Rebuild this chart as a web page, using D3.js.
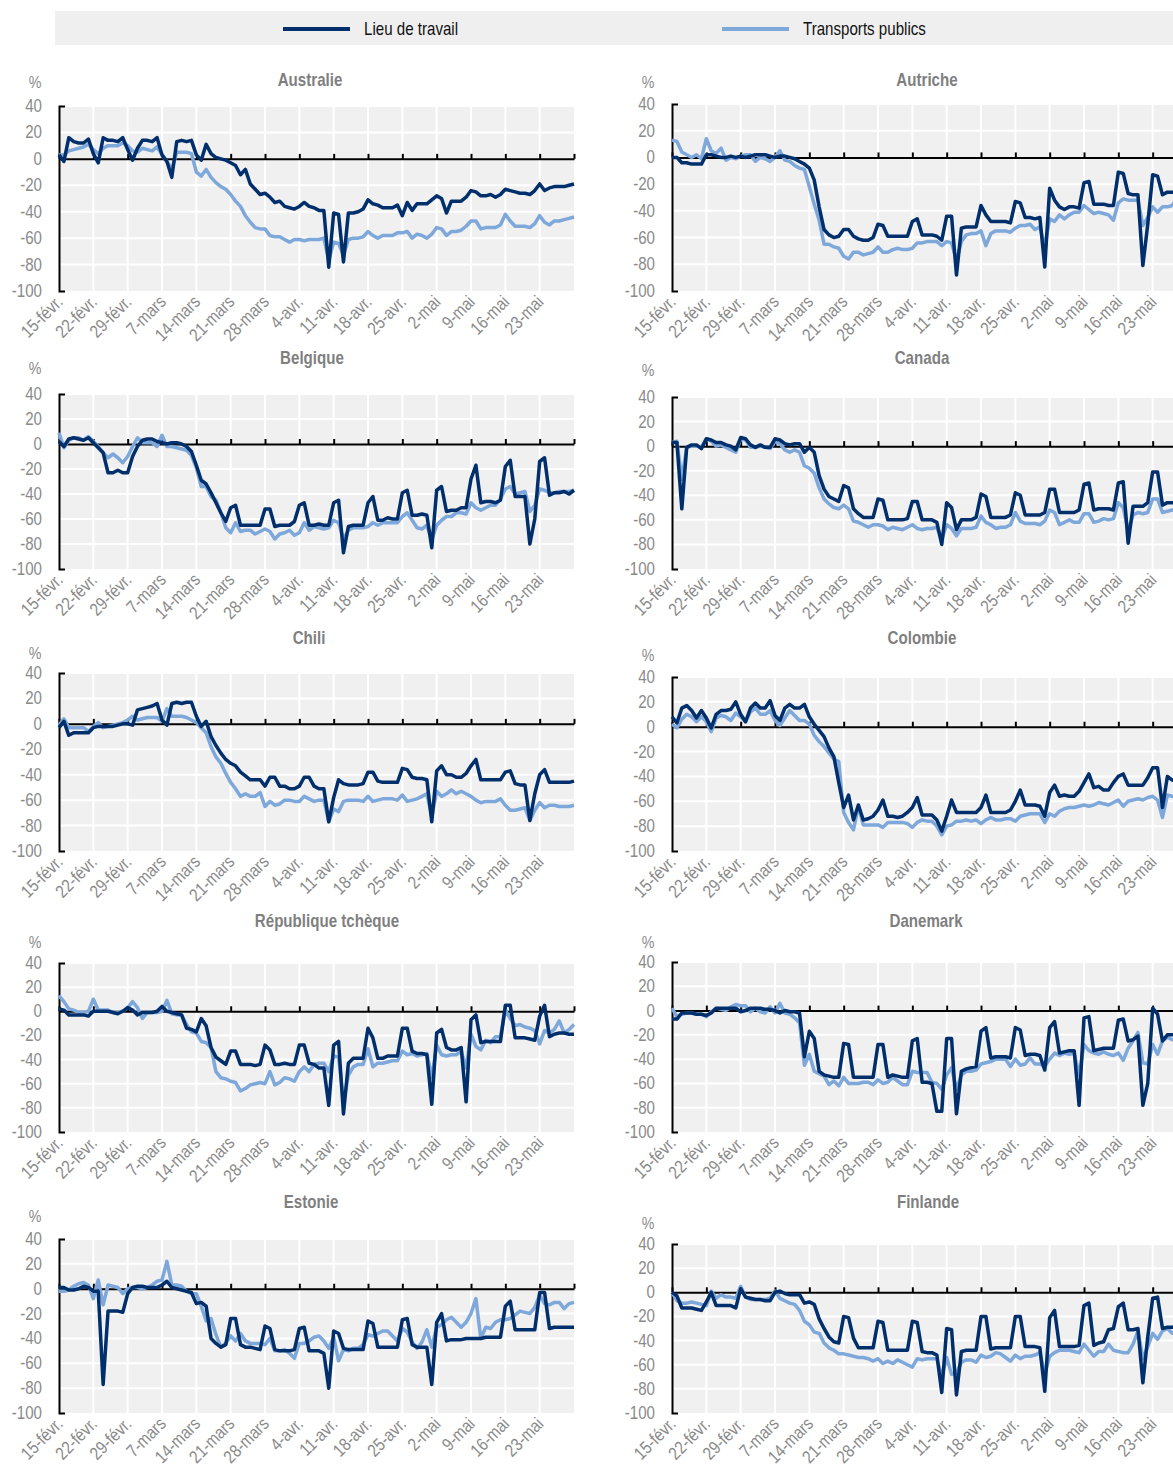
<!DOCTYPE html>
<html>
<head>
<meta charset="utf-8">
<script src="https://cdn.jsdelivr.net/npm/d3@7"></script>
<style>
  body { margin: 0; background: #fff; }
  svg { display: block; font-family: "Liberation Sans Narrow", "Arial Narrow", "Liberation Sans", sans-serif; }
</style>
</head>
<body>
<div id="chart"></div>
<script>
// Daily values, 15 Feb -> 30 May 2020 (one row = one week, Sat..Fri)
const tickLabels = ['15-févr.', '22-févr.', '29-févr.', '7-mars', '14-mars', '21-mars', '28-mars',
  '4-avr.', '11-avr.', '18-avr.', '25-avr.', '2-mai', '9-mai', '16-mai', '23-mai'];
const yTicks = [40, 20, 0, -20, -40, -60, -80, -100];
const seriesNames = ['Lieu de travail', 'Transports publics'];

const australieTravail = [
  3, -2, 16, 13, 12, 12, 15,
  4, -3, 16, 14, 14, 13, 16,
  7, -1, 8, 14, 14, 13, 16,
  3, -2, -14, 13, 14, 13, 14,
  3, -1, 11, 4, 1, 0, -1,
  -3, -5, -12, -8, -19, -23, -27,
  -26, -29, -33, -32, -36, -37, -38,
  -36, -33, -36, -37, -39, -39, -82,
  -41, -42, -78, -41, -41, -40, -38,
  -31, -34, -35, -37, -37, -37, -35,
  -43, -33, -39, -34, -34, -34, -31,
  -28, -30, -41, -32, -32, -32, -29,
  -24, -25, -28, -28, -27, -29, -27,
  -23, -24, -25, -26, -26, -27, -24,
  -19, -24, -22, -21, -21, -21, -20,
  -19];
const australieTransports = [
  3, 3, 6, 7, 8, 9, 11,
  7, 4, 8, 10, 10, 10, 12,
  10, 6, 5, 8, 7, 6, 9,
  3, -2, -8, 5, 5, 5, 4,
  -10, -13, -8, -14, -18, -21, -23,
  -27, -32, -36, -43, -48, -52, -53,
  -53, -58, -59, -59, -61, -63, -61,
  -61, -62, -61, -61, -61, -60, -77,
  -63, -64, -73, -61, -60, -60, -59,
  -55, -58, -60, -58, -58, -58, -56,
  -56, -55, -60, -57, -58, -60, -57,
  -52, -53, -58, -55, -55, -54, -51,
  -47, -47, -53, -52, -52, -52, -50,
  -42, -47, -51, -51, -51, -52, -49,
  -43, -48, -50, -47, -47, -46, -45,
  -44];

const autricheTravail = [
  0, 0, -4, -4, -5, -5, -5,
  2, 2, 1, 0, 0, 1, 0,
  1, 0, 1, 2, 2, 2, 1,
  0, 1, 1, 0, -1, -3, -5,
  -8, -17, -37, -54, -58, -60, -59,
  -54, -54, -59, -61, -62, -62, -60,
  -50, -51, -59, -59, -59, -59, -59,
  -48, -46, -58, -58, -58, -59, -62,
  -44, -44, -88, -53, -52, -52, -52,
  -36, -43, -48, -48, -48, -48, -49,
  -33, -34, -45, -45, -46, -45, -82,
  -23, -32, -37, -39, -37, -37, -38,
  -19, -18, -35, -35, -35, -36, -36,
  -11, -12, -27, -28, -28, -81, -50,
  -13, -14, -28, -26, -26, -26, -25,
  -25];
const autricheTransports = [
  13, 12, 4, 2, 0, 2, -1,
  14, 5, 3, 7, -2, 0, -1,
  1, 2, 2, -3, 0, -1, -3,
  0, 5, -2, -3, -6, -8, -9,
  -22, -35, -47, -65, -65, -67, -68,
  -74, -76, -71, -71, -73, -72, -71,
  -67, -71, -71, -69, -68, -69, -69,
  -68, -64, -64, -63, -63, -63, -66,
  -63, -64, -77, -63, -58, -57, -57,
  -55, -66, -57, -55, -55, -55, -56,
  -53, -51, -51, -50, -54, -52, -67,
  -46, -48, -43, -46, -43, -41, -41,
  -36, -39, -42, -41, -42, -43, -47,
  -34, -31, -32, -32, -32, -51, -45,
  -37, -41, -37, -37, -36, -30, -30,
  -30];

const belgiqueTravail = [
  2, -2, 4, 5, 4, 3, 5,
  1, -3, -7, -23, -23, -21, -23,
  -23, -10, -2, 3, 4, 4, 2,
  1, 0, 1, 1, 0, -2, -6,
  -17, -29, -32, -39, -47, -55, -62,
  -51, -49, -65, -65, -65, -65, -65,
  -52, -52, -66, -65, -65, -65, -62,
  -49, -47, -65, -65, -64, -65, -65,
  -47, -45, -87, -66, -65, -65, -65,
  -47, -42, -61, -61, -59, -60, -60,
  -39, -37, -57, -57, -56, -57, -83,
  -37, -34, -54, -53, -53, -51, -51,
  -28, -17, -47, -46, -46, -47, -45,
  -18, -13, -42, -42, -42, -80, -60,
  -14, -11, -41, -39, -39, -38, -40,
  -37];
const belgiqueTransports = [
  9, -3, 3, 5, 5, 3, 6,
  2, -2, -7, -11, -8, -11, -15,
  -10, -2, 5, 1, 1, 1, -2,
  7, -2, -2, -3, -4, -5, -9,
  -19, -34, -34, -42, -45, -55, -67,
  -71, -63, -70, -69, -69, -72, -70,
  -68, -70, -76, -72, -71, -69, -73,
  -71, -63, -69, -66, -67, -68, -67,
  -61, -63, -76, -69, -67, -67, -67,
  -66, -63, -65, -63, -63, -63, -63,
  -58, -55, -61, -67, -68, -65, -77,
  -65, -61, -58, -58, -55, -55, -56,
  -47, -51, -53, -51, -49, -49, -44,
  -36, -34, -40, -39, -38, -54, -49,
  -36, -37, -39, -39, -38, -38, -38,
  -37];

const canadaTravail = [
  3, 3, -51, -1, 1, 1, -2,
  6, 5, 3, 3, 1, 0, -3,
  7, 6, 1, -1, 1, -1, -1,
  6, 5, 2, 1, 2, 2, -5,
  -1, -5, -24, -35, -41, -43, -45,
  -32, -34, -51, -55, -58, -58, -58,
  -43, -44, -60, -60, -60, -60, -59,
  -45, -45, -60, -60, -60, -62, -80,
  -46, -50, -68, -60, -60, -60, -58,
  -39, -41, -58, -58, -58, -58, -56,
  -38, -40, -56, -56, -56, -56, -54,
  -35, -35, -54, -54, -54, -54, -52,
  -31, -30, -52, -51, -51, -51, -52,
  -30, -29, -79, -49, -49, -49, -46,
  -21, -21, -48, -46, -46, -46, -45,
  -45];
const canadaTransports = [
  3, 4, -27, -1, 0, 0, -1,
  6, 4, 0, 1, -1, -3, -5,
  6, 5, -1, -1, 0, -1, -2,
  4, 2, -3, -5, -3, -5, -16,
  -18, -22, -34, -43, -47, -50, -51,
  -48, -51, -61, -62, -64, -66, -64,
  -64, -65, -68, -66, -67, -68, -66,
  -64, -67, -68, -67, -67, -66, -76,
  -64, -67, -73, -67, -67, -67, -66,
  -57, -62, -64, -67, -66, -66, -64,
  -54, -61, -63, -63, -63, -64, -61,
  -52, -54, -64, -62, -60, -62, -62,
  -55, -55, -62, -61, -59, -60, -59,
  -46, -50, -69, -56, -54, -55, -54,
  -43, -43, -54, -53, -52, -52, -51,
  -51];

const chiliTravail = [
  -3, 2, -9, -7, -7, -7, -7,
  -3, -2, -2, -2, -2, -1, 0,
  0, -1, 11, 12, 13, 14, 16,
  3, -1, 16, 17, 16, 17, 17,
  6, -2, 2, -10, -17, -23, -28,
  -31, -33, -38, -41, -44, -44, -44,
  -49, -42, -42, -49, -49, -51, -51,
  -49, -42, -42, -49, -51, -51, -77,
  -58, -44, -47, -48, -48, -48, -47,
  -38, -38, -45, -46, -46, -46, -46,
  -35, -36, -42, -43, -43, -44, -77,
  -37, -33, -40, -40, -42, -42, -39,
  -33, -28, -44, -44, -44, -44, -44,
  -38, -37, -47, -48, -48, -76, -55,
  -40, -36, -46, -46, -46, -46, -46,
  -45];
const chiliTransports = [
  -1, 4, -3, -3, -3, -3, -6,
  -2, 1, -3, -2, -1, 0, 1,
  3, 6, 3, 4, 5, 5, 5,
  2, 12, 6, 6, 6, 5, 3,
  1, -3, -7, -18, -26, -31, -39,
  -46, -51, -57, -55, -57, -57, -54,
  -65, -61, -64, -63, -60, -60, -61,
  -61, -57, -59, -61, -60, -60, -77,
  -67, -69, -61, -60, -60, -60, -61,
  -57, -61, -60, -59, -59, -59, -60,
  -56, -61, -60, -59, -57, -55, -73,
  -53, -57, -55, -52, -55, -53, -55,
  -57, -60, -62, -61, -61, -61, -59,
  -64, -68, -68, -67, -66, -76, -68,
  -62, -66, -64, -64, -65, -65, -65,
  -64];

const colombieTravail = [
  8, 3, 15, 17, 13, 7, 13,
  7, -1, 10, 13, 13, 14, 20,
  10, 4, 15, 19, 15, 15, 21,
  9, 5, 15, 18, 15, 15, 18,
  8, 2, -3, -8, -17, -24, -45,
  -65, -55, -75, -63, -75, -74, -72,
  -67, -59, -72, -72, -73, -72, -69,
  -65, -57, -71, -71, -71, -75, -84,
  -72, -59, -69, -69, -69, -69, -69,
  -65, -55, -69, -69, -69, -69, -67,
  -60, -51, -63, -63, -63, -64, -72,
  -53, -47, -56, -55, -56, -56, -52,
  -45, -38, -49, -48, -51, -51, -45,
  -40, -38, -47, -47, -47, -47, -41,
  -33, -33, -65, -40, -43, -43, -42,
  -42];
const colombieTransports = [
  2, -1, 6, 10, 8, 4, 8,
  4, -4, 7, 9, 8, 5, 11,
  8, 4, 12, 15, 10, 10, 13,
  5, 1, 7, 13, 9, 5, 5,
  2, -7, -12, -16, -21, -26, -28,
  -69, -77, -83, -64, -79, -79, -79,
  -79, -81, -77, -77, -77, -77, -78,
  -81, -77, -75, -76, -76, -80, -87,
  -80, -79, -76, -76, -75, -76, -75,
  -78, -75, -73, -75, -75, -74, -74,
  -76, -72, -71, -70, -70, -70, -77,
  -70, -72, -68, -66, -65, -65, -64,
  -63, -64, -63, -61, -62, -63, -61,
  -59, -64, -60, -59, -58, -59, -57,
  -56, -59, -73, -55, -56, -57, -57,
  -57];

const tchequeTravail = [
  2, 1, -3, -3, -3, -3, -4,
  0, 0, 0, 0, -1, -2, 0,
  3, 1, -3, -1, -1, -1, 0,
  4, 0, -1, -2, -3, -14, -15,
  -17, -6, -12, -30, -38, -41, -44,
  -33, -33, -44, -44, -44, -45, -44,
  -28, -32, -44, -44, -43, -44, -44,
  -28, -28, -43, -44, -47, -47, -78,
  -28, -25, -85, -43, -39, -39, -39,
  -14, -22, -39, -39, -37, -37, -37,
  -14, -14, -33, -35, -35, -36, -77,
  -18, -15, -30, -32, -32, -30, -75,
  -7, -3, -26, -25, -25, -25, -25,
  5, 5, -22, -22, -22, -23, -24,
  -4, 5, -21, -19, -18, -18, -19,
  -19];
const tchequeTransports = [
  13, 8, 2, 1, -1, -1, 0,
  10, 1, 1, 1, -1, -1, 0,
  3, 8, 3, -6, -1, -1, -1,
  0, 9, -2, -3, -3, -11, -17,
  -18, -25, -26, -30, -50, -55, -56,
  -58, -59, -66, -64, -61, -60, -59,
  -60, -50, -61, -59, -55, -56, -58,
  -50, -46, -50, -44, -43, -43, -50,
  -37, -38, -75, -53, -46, -44, -44,
  -31, -46, -43, -43, -42, -41, -41,
  -33, -36, -35, -37, -36, -35, -55,
  -28, -36, -37, -36, -36, -33, -47,
  -19, -29, -32, -24, -26, -21, -21,
  1, -6, -12, -11, -13, -14, -16,
  -27, -16, -18, -15, -8, -18, -15,
  -11];

const danemarkTravail = [
  -7, -7, -2, -2, -2, -3, -3,
  -4, -2, 2, 2, 2, 2, 2,
  -1, 0, 2, 2, 2, 1, 1,
  0, -2, 0, -1, -1, -2, -38,
  -17, -23, -50, -53, -54, -55, -55,
  -27, -28, -55, -55, -55, -55, -55,
  -28, -28, -55, -53, -54, -55, -55,
  -25, -23, -59, -59, -60, -83, -83,
  -23, -23, -85, -50, -48, -47, -46,
  -17, -14, -39, -38, -38, -38, -39,
  -14, -16, -37, -36, -36, -37, -49,
  -14, -9, -35, -34, -33, -33, -78,
  -6, -5, -33, -32, -31, -31, -31,
  -8, -7, -25, -24, -21, -78, -60,
  2, -3, -25, -20, -20, -19, -19,
  -19];
const danemarkTransports = [
  2, -5, -3, -2, -2, -3, -3,
  -5, -1, 2, 1, 0, 3, 5,
  4, 4, -1, 2, -1, -2, 3,
  -2, 6, -2, -3, -6, -10, -45,
  -36, -50, -52, -54, -61, -58, -62,
  -55, -60, -60, -60, -59, -59, -61,
  -57, -60, -59, -55, -58, -61, -61,
  -50, -51, -51, -51, -59, -60, -65,
  -53, -47, -65, -53, -50, -50, -49,
  -44, -43, -42, -40, -40, -40, -46,
  -40, -45, -44, -39, -44, -44, -46,
  -40, -35, -37, -35, -36, -35, -53,
  -28, -33, -35, -36, -34, -36, -37,
  -35, -41, -31, -25, -18, -43, -44,
  -28, -36, -25, -22, -24, -24, -24,
  -24];

const estonieTravail = [
  1, 1, -1, -1, 0, 2, 1,
  -2, -2, -77, -18, -18, -18, -19,
  -4, 1, 2, 2, 1, 1, 1,
  3, 6, 1, 0, -1, -2, -3,
  -12, -11, -14, -40, -44, -47, -45,
  -24, -24, -45, -47, -47, -48, -49,
  -30, -32, -49, -50, -50, -50, -49,
  -32, -31, -50, -50, -50, -52, -80,
  -34, -36, -48, -49, -49, -49, -49,
  -26, -28, -47, -47, -47, -47, -47,
  -25, -24, -45, -47, -47, -47, -77,
  -27, -20, -42, -41, -41, -41, -40,
  -40, -40, -40, -39, -39, -39, -39,
  -14, -10, -33, -33, -33, -33, -33,
  -3, -3, -32, -31, -31, -31, -31,
  -31];
const estonieTransports = [
  -2, -2, -1, 2, 4, 5, 3,
  -8, 7, -13, 3, 2, 1, -4,
  0, 1, 1, 0, 1, 3, 6,
  7, 22, 3, 3, 2, -2, -4,
  -4, -14, -26, -24, -37, -47, -44,
  -38, -42, -36, -42, -44, -44, -44,
  -45, -40, -50, -50, -49, -52, -56,
  -44, -44, -42, -39, -38, -42, -48,
  -39, -58, -49, -50, -48, -48, -45,
  -37, -38, -36, -34, -34, -38, -42,
  -32, -35, -43, -48, -43, -33, -47,
  -31, -29, -25, -23, -27, -31, -27,
  -20, -8, -40, -31, -32, -27, -25,
  -25, -24, -21, -18, -19, -20, -15,
  -5, -12, -13, -11, -11, -16, -12,
  -11];

const finlandeTravail = [
  0, -3, -13, -13, -13, -14, -15,
  -8, 0, -11, -11, -11, -11, -13,
  3, -4, -5, -6, -6, -7, -7,
  0, 1, -1, -2, -2, -2, -9,
  -8, -10, -22, -30, -37, -41, -42,
  -20, -21, -38, -46, -46, -46, -46,
  -24, -25, -48, -48, -48, -48, -48,
  -24, -25, -49, -50, -50, -52, -83,
  -30, -31, -85, -49, -48, -48, -48,
  -20, -20, -47, -46, -46, -46, -46,
  -20, -20, -45, -45, -45, -46, -82,
  -21, -15, -45, -45, -45, -45, -44,
  -11, -9, -44, -42, -41, -31, -30,
  -12, -9, -31, -31, -30, -75, -37,
  -5, -4, -30, -29, -29, -28, -28,
  -28];
const finlandeTransports = [
  0, -7, -9, -9, -8, -9, -10,
  -11, 1, -5, -2, -4, -4, -5,
  5, -4, -6, -6, -6, -6, -5,
  1, -5, -7, -9, -10, -15, -24,
  -27, -33, -34, -42, -46, -48, -51,
  -51, -52, -53, -54, -54, -55, -57,
  -55, -59, -57, -59, -56, -58, -60,
  -62, -55, -56, -55, -55, -55, -70,
  -54, -68, -67, -58, -56, -56, -58,
  -52, -54, -53, -50, -51, -54, -57,
  -52, -55, -53, -53, -52, -50, -68,
  -53, -50, -48, -48, -48, -49, -50,
  -43, -48, -53, -49, -49, -43, -48,
  -49, -50, -50, -43, -32, -55, -45,
  -34, -39, -32, -30, -34, -33, -33,
  -33];

// ---- layout ----
const W = 1173, H = 1466;
const PLOT_W = 515;
const DARK = '#002f6c', LIGHT = '#7ea7da';
const GREY_TXT = '#8a8a8a';
const SX = 0.84; // horizontal squeeze, to imitate a narrow face

const start = new Date(Date.UTC(2020, 1, 15));
const dates = d3.utcDays(start, d3.utcDay.offset(start, australieTravail.length));
const weekDates = dates.filter((d, i) => i % 7 === 0);

const panels = [
  { title: 'Australie', work: australieTravail, transit: australieTransports, col: 0, top: 106, bottom: 291, titleX: 310, titleY: 80, pctY: 83 },
  { title: 'Autriche', work: autricheTravail, transit: autricheTransports, col: 1, top: 104, bottom: 291, titleX: 927, titleY: 80, pctY: 83 },
  { title: 'Belgique', work: belgiqueTravail, transit: belgiqueTransports, col: 0, top: 394, bottom: 569, titleX: 312, titleY: 358, pctY: 369 },
  { title: 'Canada', work: canadaTravail, transit: canadaTransports, col: 1, top: 397, bottom: 569, titleX: 922, titleY: 358, pctY: 371 },
  { title: 'Chili', work: chiliTravail, transit: chiliTransports, col: 0, top: 673, bottom: 851, titleX: 309, titleY: 638, pctY: 654 },
  { title: 'Colombie', work: colombieTravail, transit: colombieTransports, col: 1, top: 677, bottom: 851, titleX: 922, titleY: 638, pctY: 656 },
  { title: 'République tchèque', work: tchequeTravail, transit: tchequeTransports, col: 0, top: 963, bottom: 1132, titleX: 327, titleY: 921, pctY: 943 },
  { title: 'Danemark', work: danemarkTravail, transit: danemarkTransports, col: 1, top: 962, bottom: 1132, titleX: 926, titleY: 921, pctY: 943 },
  { title: 'Estonie', work: estonieTravail, transit: estonieTransports, col: 0, top: 1239, bottom: 1413, titleX: 311, titleY: 1202, pctY: 1217 },
  { title: 'Finlande', work: finlandeTravail, transit: finlandeTransports, col: 1, top: 1244, bottom: 1413, titleX: 928, titleY: 1202, pctY: 1224 }
];

const svg = d3.select('#chart').append('svg')
  .attr('width', W)
  .attr('height', H);

// text with a narrow look
function addText(parent, x, y, str, opts = {}) {
  const rot = opts.rotate ? ` rotate(${opts.rotate})` : '';
  return parent.append('text')
    .attr('transform', `translate(${x},${y})${rot} scale(${SX},1)`)
    .attr('text-anchor', opts.anchor || 'start')
    .attr('font-size', opts.size || 18)
    .attr('font-weight', opts.weight || null)
    .attr('fill', opts.fill || GREY_TXT)
    .text(str);
}

// Legend band
const legend = svg.append('g');
legend.append('rect')
  .attr('x', 55).attr('y', 11)
  .attr('width', W - 55).attr('height', 34)
  .attr('fill', '#efefef');
[[283, DARK], [722, LIGHT]].forEach(([lx, c], i) => {
  legend.append('line')
    .attr('x1', lx).attr('x2', lx + 67)
    .attr('y1', 29).attr('y2', 29)
    .attr('stroke', c).attr('stroke-width', 4);
  addText(legend, lx + 81, 35, seriesNames[i], { fill: '#111' });
});

panels.forEach(drawPanel);

function drawPanel(p) {
  const x0 = p.col === 0 ? 59 : 672;
  const x = d3.scaleUtc()
    .domain([dates[0], dates[dates.length - 1]])
    .range([x0, x0 + PLOT_W]);
  const y = d3.scaleLinear()
    .domain([-100, 40])
    .range([p.bottom, p.top]);

  const g = svg.append('g');

  // plot background
  g.append('rect')
    .attr('x', x0).attr('y', p.top)
    .attr('width', PLOT_W).attr('height', p.bottom - p.top)
    .attr('fill', '#f0f0f0');

  // white grid
  g.selectAll('.hgrid')
    .data(yTicks.filter(v => v !== 0 && v !== -100))
    .join('line')
    .attr('x1', x0).attr('x2', x0 + PLOT_W)
    .attr('y1', d => y(d)).attr('y2', d => y(d))
    .attr('stroke', '#fff').attr('stroke-width', 2);
  g.selectAll('.vgrid')
    .data(weekDates.slice(1, -1))
    .join('line')
    .attr('x1', d => x(d)).attr('x2', d => x(d))
    .attr('y1', p.top).attr('y2', p.bottom)
    .attr('stroke', '#fff').attr('stroke-width', 2);

  // zero line with weekly ticks
  const xAxis = g.append('g')
    .attr('transform', `translate(0,${y(0)})`)
    .call(d3.axisBottom(x).tickValues(weekDates).tickSize(-5).tickSizeOuter(0).tickFormat(''));
  xAxis.select('.domain').attr('stroke', '#000').attr('stroke-width', 2);
  xAxis.selectAll('.tick line').attr('stroke', '#000').attr('stroke-width', 2);

  // y axis (domain with inward end ticks)
  const yAxis = g.append('g')
    .attr('transform', `translate(${x0},0)`)
    .call(d3.axisLeft(y).tickValues(yTicks).tickSizeInner(0).tickSizeOuter(-6).tickFormat(''));
  yAxis.select('.domain').attr('stroke', '#000').attr('stroke-width', 2);
  yTicks.forEach(v => {
    addText(g, x0 - 17, y(v) + 6, String(v), { anchor: 'end' });
  });

  // date labels
  weekDates.slice(0, tickLabels.length).forEach((d, i) => {
    addText(g, x(d) + 5, p.bottom + 12, tickLabels[i], { anchor: 'end', rotate: -45 });
  });

  // titles
  addText(g, p.titleX, p.titleY + 6, p.title, { anchor: 'middle', weight: 'bold', fill: '#7f7f7f' });
  addText(g, x0 - 24, p.pctY + 5, '%', { anchor: 'middle', size: 17 });

  // series
  const line = d3.line()
    .x((d, i) => x(dates[i]))
    .y(d => y(d));
  [[p.transit, LIGHT], [p.work, DARK]].forEach(([vals, c]) => {
    g.append('path')
      .datum(vals)
      .attr('fill', 'none')
      .attr('stroke', c)
      .attr('stroke-width', 3.5)
      .attr('stroke-linejoin', 'round')
      .attr('d', line);
  });
}
</script>
</body>
</html>
